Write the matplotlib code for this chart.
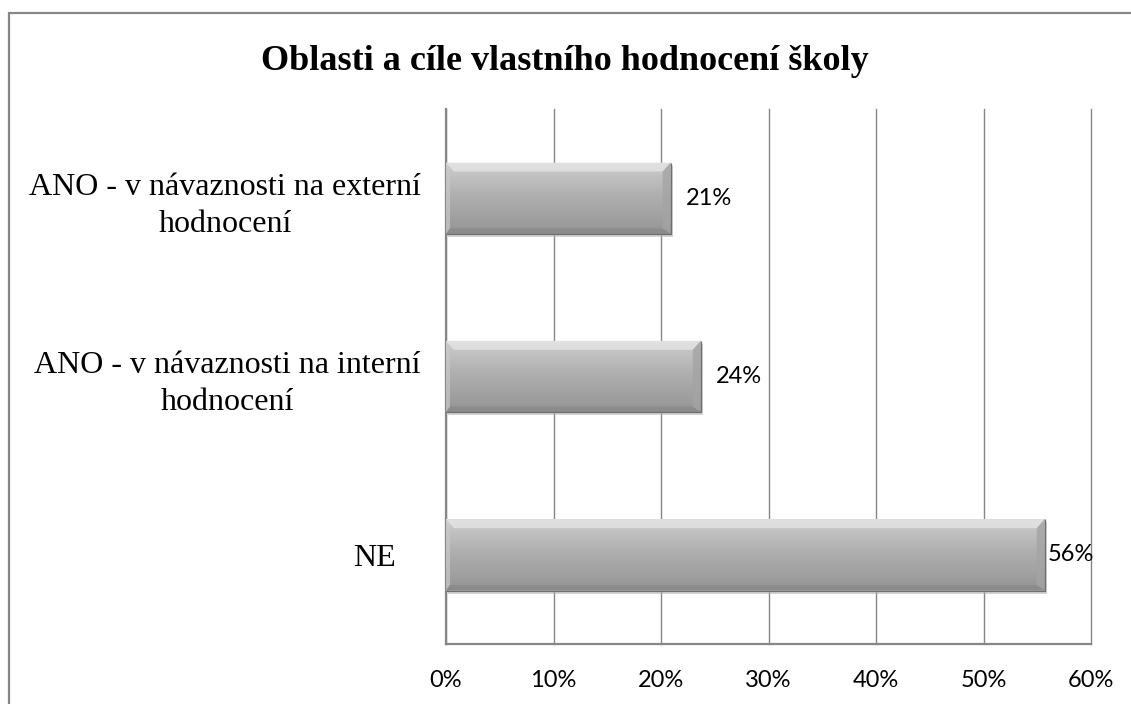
import matplotlib
matplotlib.use("Agg")
import matplotlib.pyplot as plt
import numpy as np
from matplotlib.patches import Rectangle, Polygon
from matplotlib.colors import LinearSegmentedColormap
from matplotlib.transforms import ScaledTranslation

title = "Oblasti a cíle vlastního hodnocení školy"
categories = ["NE",
              "ANO - v návaznosti na interní\nhodnocení",
              "ANO - v návaznosti na externí\nhodnocení"]
values = [0.557, 0.237, 0.209]
value_labels = ["56%", "24%", "21%"]
xticks = [0.0, 0.1, 0.2, 0.3, 0.4, 0.5, 0.6]
xtick_labels = ["0%", "10%", "20%", "30%", "40%", "50%", "60%"]

W, H = 1131, 704
fig = plt.figure(figsize=(W / 100, H / 100), dpi=100)
fig.patch.set_facecolor("white")

# outer chart border
fig.add_artist(Rectangle((9 / W, -0.1), 1.2, (H - 13) / H + 0.1,
                         transform=fig.transFigure, fill=False,
                         edgecolor="#878787", linewidth=1.6))

fig.text(565 / W, 1 - 61 / H, title, ha="center", va="center",
         fontsize=26, fontweight="bold", family="Liberation Serif")

ax = fig.add_axes([446 / W, 60 / H, (1091 - 446) / W, (644 - 109) / H])
ypos = np.arange(len(categories))
bars = ax.barh(ypos, values, height=0.40, color="#ababab",
               edgecolor="none", zorder=3)
ax.set_xlim(0, 0.6)
ax.set_ylim(-0.5, len(categories) - 0.5)
ax.set_xticks(xticks)
ax.set_xticklabels(xtick_labels, family="Lato", fontsize=17)
ax.set_yticks(ypos)
ax.set_yticklabels(categories, family="Liberation Serif", fontsize=23,
                   ha="right", multialignment="center", linespacing=1.38)
ax.tick_params(axis="both", length=0)
ax.tick_params(axis="x", pad=19, colors="black")
ax.tick_params(axis="y", pad=18)
# single-line label sits slightly further from the axis, as in the original
ylbls = ax.get_yticklabels()
ylbls[0].set_transform(ylbls[0].get_transform() +
                       ScaledTranslation(-25 / 100, 0, fig.dpi_scale_trans))
ax.grid(axis="x", color="#868686", linewidth=1.0, zorder=0)
for gl in ax.get_xgridlines():
    gl.set_clip_on(False)
ax.set_axisbelow(True)
for s in ["top", "right"]:
    ax.spines[s].set_visible(False)
for s in ["left", "bottom"]:
    ax.spines[s].set_color("#868686")
    ax.spines[s].set_linewidth(1.6)

# gradient fill + bevel for bars
fig.canvas.draw()
inv = ax.transData.inverted()
px_x = inv.transform((ax.transData.transform((0, 0))[0] + 1, 0))[0]
px_y = abs(inv.transform((0, ax.transData.transform((0, 0))[1] + 1))[1] - 0)
grad_cmap = LinearSegmentedColormap.from_list(
    "g", [(0.0, "#8f8f8f"), (0.12, "#9b9b9b"), (0.55, "#b0b0b0"),
          (0.85, "#c4c4c4"), (1.0, "#d2d2d2")])
prof = np.linspace(0, 1, 256).reshape(-1, 1)
ann = []
for b, v, t in zip(bars, values, value_labels):
    x0, y0, w, h = b.get_x(), b.get_y(), b.get_width(), b.get_height()
    sh = Rectangle((x0 + 2 * px_x, y0 - 3 * px_y), w, h, facecolor="#b5b5b5",
                   edgecolor="none", alpha=0.6, zorder=2)
    ax.add_patch(sh)
    im = ax.imshow(prof, cmap=grad_cmap, aspect="auto", origin="lower",
                   extent=(x0, x0 + w, y0, y0 + h), zorder=3.5,
                   interpolation="bilinear")
    im.set_clip_path(b)
    bx, by = 8 * px_x, 9 * px_y
    top = Polygon([(x0, y0 + h), (x0 + w, y0 + h), (x0 + w - bx, y0 + h - by),
                   (x0 + bx, y0 + h - by)], closed=True,
                  facecolor="#e4e4e4", edgecolor="none", alpha=0.8, zorder=4)
    right = Polygon([(x0 + w, y0 + h), (x0 + w, y0), (x0 + w - bx, y0 + by * 0.6),
                     (x0 + w - bx, y0 + h - by)], closed=True,
                    facecolor="#a4a4a4", edgecolor="none", alpha=0.8, zorder=4)
    left = Polygon([(x0, y0 + h), (x0, y0), (x0 + bx * 0.5, y0 + by * 0.6),
                    (x0 + bx * 0.5, y0 + h - by)], closed=True,
                   facecolor="#c8c8c8", edgecolor="none", alpha=0.7, zorder=4)
    bottom = Polygon([(x0, y0), (x0 + w, y0), (x0 + w - bx, y0 + by * 0.6),
                      (x0 + bx * 0.5, y0 + by * 0.6)], closed=True,
                     facecolor="#8a8a8a", edgecolor="none", alpha=0.8, zorder=4)
    for p in (top, right, left, bottom):
        ax.add_patch(p)
    ax.plot([x0 + w, x0 + w, x0], [y0 + h, y0, y0], color="#6e6e6e",
            linewidth=0.9, zorder=5, solid_capstyle="butt")
    a = ax.annotate(t, xy=(x0 + w, y0 + h / 2), xytext=(11, 0),
                    textcoords="offset points", ha="left", va="center",
                    family="Lato", fontsize=17, zorder=6,
                    annotation_clip=False)
    ann.append(a)

# keep data labels near the plot area edge (as the original chart does)
fig.canvas.draw()
r = fig.canvas.get_renderer()
ax_right = ax.get_window_extent(r).x1 + 3
for a in ann:
    bb = a.get_window_extent(r)
    if bb.x1 > ax_right:
        shift = (bb.x1 - ax_right) * 72 / fig.dpi
        a.xyann = (a.xyann[0] - shift, 0)

fig.savefig("out.png", dpi=100, facecolor="white")
